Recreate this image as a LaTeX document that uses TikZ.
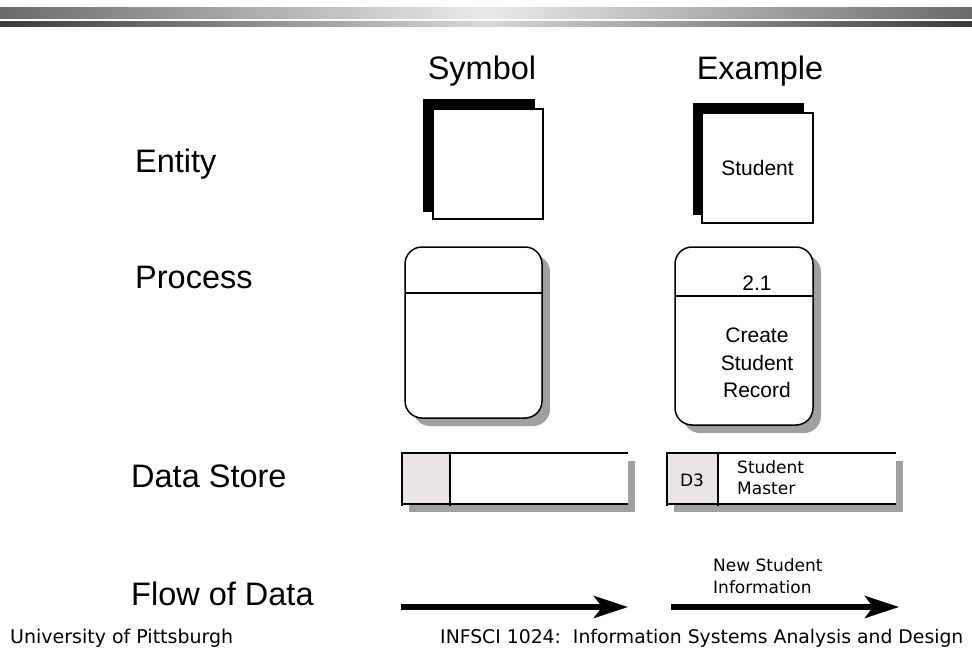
\documentclass[tikz,border=0pt]{standalone}
\usepackage{fontspec}
\setmainfont{Liberation Sans}
\newfontfamily\pixfont{DejaVu Sans}
\usetikzlibrary{arrows.meta}

\definecolor{shadowgray}{HTML}{A0A0A0}
\definecolor{storefill}{HTML}{E8E4E8}
\definecolor{barouter}{HTML}{6A6A6A}
\definecolor{barinner}{HTML}{EAEAEA}
\definecolor{bardark}{HTML}{3A3A3A}
\definecolor{barlight}{HTML}{D8D8D8}

\tikzset{
  rowlabel/.style={anchor=base west, inner sep=0pt, font=\fontsize{32.5}{36}\selectfont},
  colhead/.style={anchor=base, inner sep=0pt, font=\fontsize{32.5}{36}\selectfont},
  boxtext/.style={inner sep=0pt, align=center, font=\fontsize{21}{27.5}\selectfont},
  pixtext/.style={inner sep=0pt, font=\pixfont\fontsize{17}{22}\selectfont},
  outline/.style={line width=1.5pt, draw=black},
  flow/.style={line width=5.5pt, -{Stealth[length=34pt, width=22pt, inset=8pt]}},
}

\begin{document}
\begin{tikzpicture}[x=1pt, y=-1pt]
\useasboundingbox (0,0) rectangle (972,648);
\fill[white] (0,0) rectangle (972,648);

% title bar
\shade[left color=barouter, right color=barouter, middle color=barinner] (0,7) rectangle (972,18);
\shade[left color=bardark, right color=bardark, middle color=barlight] (0,21) rectangle (972,26);

% column headings
\node[colhead] (hsym) at (482,79) {Symbol};
\node[colhead] (hex) at (760,79) {Example};

% row labels
\node[rowlabel] (lent) at (135,172) {Entity};
\node[rowlabel] (lproc) at (135,288) {Process};
\node[rowlabel] (lstore) at (131,487) {Data Store};
\node[rowlabel] (lflow) at (131,605) {Flow of Data};

% entity symbol
\fill[black] (423,99) rectangle (535,212);
\draw[outline, fill=white] (433,109) rectangle (543,219);

% entity example
\fill[black] (693,103) rectangle (804,215);
\draw[outline, fill=white] (702,113) rectangle (813,223);
\node[boxtext] (entname) at (757.5,168) {Student};

% process symbol
\fill[shadowgray, rounded corners=17pt] (413,255) rectangle (550,426);
\draw[outline, fill=white, rounded corners=17pt] (405,247) rectangle (542,418);
\draw[outline] (405,293) -- (542,293);

% process example
\fill[shadowgray, rounded corners=17pt] (683,255) rectangle (821,433);
\draw[outline, fill=white, rounded corners=17pt] (675,247) rectangle (813,425);
\draw[outline] (675,296) -- (813,296);
\node[boxtext] (procid) at (757,283) {2.1};
\node[boxtext] (procname) at (757,363) {Create\\Student\\Record};

% data store symbol
\fill[shadowgray] (409,461) rectangle (635,512);
\fill[white] (402,453) rectangle (628,504);
\fill[storefill] (402,453) rectangle (450,504);
\draw[outline] (628,453) -- (402,453) -- (402,506);
\draw[outline] (402,504) -- (628,504);
\draw[outline] (450,453) -- (450,506);

% data store example
\fill[shadowgray] (674,461) rectangle (903,512);
\fill[white] (667,453) rectangle (896,504);
\fill[storefill] (667,453) rectangle (718,504);
\draw[outline] (896,453) -- (667,453) -- (667,506);
\draw[outline] (667,504) -- (896,504);
\draw[outline] (718,453) -- (718,506);
\node[pixtext] (storeid) at (692,480) {D3};
\node[pixtext, anchor=base west] (storename1) at (737,473) {Student};
\node[pixtext, anchor=base west] (storename2) at (737,494) {Master};

% data flows
\coordinate (f1s) at (401,607);
\coordinate (f1e) at (628,607);
\coordinate (f2s) at (671,607);
\coordinate (f2e) at (899,607);
\draw[flow] (f1s) -- (f1e);
\draw[flow] (f2s) -- (f2e);
\node[pixtext, anchor=base west] (flowlbl1) at (713,571) {New Student};
\node[pixtext, anchor=base west] (flowlbl2) at (713,593) {Information};

% footer
\node[pixtext, anchor=base west, font=\pixfont\fontsize{19}{22}\selectfont] (foot1) at (10,643) {University of Pittsburgh};
\node[pixtext, anchor=base west, font=\pixfont\fontsize{18.8}{22}\selectfont] (foot2) at (440,643) {INFSCI 1024:\ \ Information Systems Analysis and Design};
\end{tikzpicture}
\end{document}
